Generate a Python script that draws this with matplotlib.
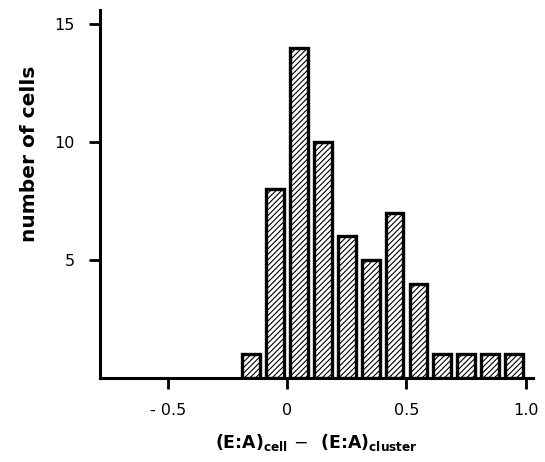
import numpy as np
import matplotlib.pyplot as plt

# histogram bins (centres) and counts
centres = [-0.15, -0.05, 0.05, 0.15, 0.25, 0.35, 0.45, 0.55, 0.65, 0.75, 0.85, 0.95]
counts = [1, 8, 14, 10, 6, 5, 7, 4, 1, 1, 1, 1]
xticks = [-0.5, 0, 0.5, 1.0]
xticklabels = ['- 0.5', '0', '0.5', '1.0']
yticks = [5, 10, 15]

plt.rcParams['hatch.linewidth'] = 0.8

fig = plt.figure(figsize=(5.45, 4.62), dpi=100)
ax = fig.add_axes([0.183, 0.182, 0.795, 0.796])

ax.bar(centres, counts, width=0.074, color='white', edgecolor='black',
       linewidth=2.4, hatch='//////', zorder=2)

ax.set_xlim(-0.785, 1.03)
ax.set_ylim(0, 15.6)
ax.set_xticks(xticks)
ax.set_xticklabels(xticklabels)
ax.set_yticks(yticks)

for s in ['top', 'right']:
    ax.spines[s].set_visible(False)
for s in ['left', 'bottom']:
    ax.spines[s].set_linewidth(2.2)

ax.tick_params(axis='both', direction='out', length=8, width=2, labelsize=11.5, pad=10)

ax.set_ylabel('number of cells', fontsize=14.5, fontweight='bold')
ax.yaxis.set_label_coords(-0.14, 0.61)
ax.set_xlabel(r'(E:A)$_{\mathbf{cell}}$ $-$  (E:A)$_{\mathbf{cluster}}$',
              fontsize=12.5, fontweight='bold', labelpad=10)

fig.savefig('out.png', dpi=100)
